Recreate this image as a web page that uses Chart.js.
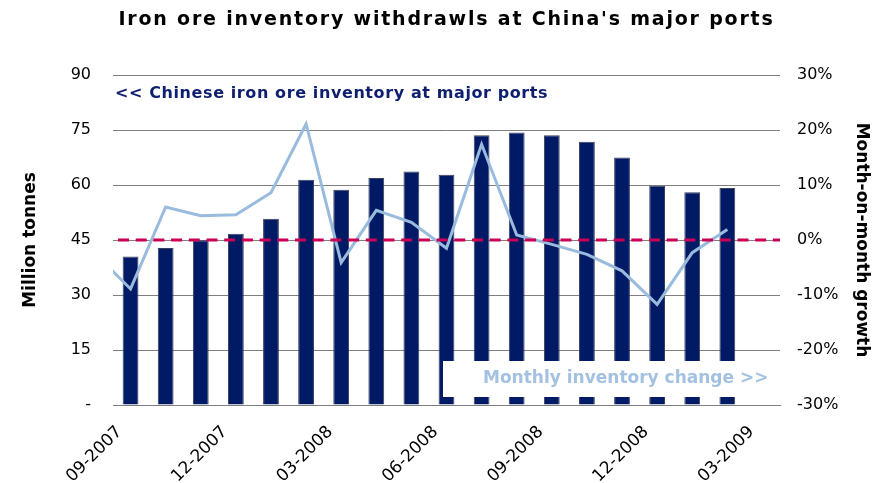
<!DOCTYPE html>
<html lang="en">
<head>
<meta charset="UTF-8" />
<title>Iron ore inventory withdrawls at China's major ports</title>
<script src="https://cdn.jsdelivr.net/npm/chart.js"></script>
<style>
    html, body { margin: 0; padding: 0; background: #fff; }
    #wrap { width: 874px; height: 483px; position: relative; }
</style>
</head>
<body>
<div id="wrap"><canvas id="chart"></canvas></div>
<script>
    // categories (months), one bar per month except the last
    const months = ['09-2007', '10-2007', '11-2007', '12-2007', '01-2008', '02-2008', '03-2008',
        '04-2008', '05-2008', '06-2008', '07-2008', '08-2008', '09-2008', '10-2008', '11-2008',
        '12-2008', '01-2009', '02-2009', '03-2009'];

    // inventory at major ports, million tonnes (09-2007 .. 02-2009)
    const inventory = [40.5, 42.8, 44.9, 46.7, 50.8, 61.4, 58.7, 61.9, 63.7, 62.8,
        73.6, 74.3, 73.6, 71.8, 67.5, 59.8, 58.0, 59.2];

    // month-on-month growth in %, starting 08-2007 (only its tail shows at the left edge)
    const growthMonths = ['08-2007'].concat(months.slice(0, 18));
    const growth = [-2.5, -8.9, 6.0, 4.4, 4.6, 8.6, 21.1, -4.1, 5.4, 3.2,
        -1.5, 17.4, 0.9, -0.8, -2.6, -5.6, -11.7, -2.3, 1.9];

    const leftTicks = [0, 15, 30, 45, 60, 75, 90];
    const rightTicks = [-30, -20, -10, 0, 10, 20, 30];
    const zeroGrowth = 0;

    const FONT = "'DejaVu Sans', Verdana, sans-serif";
    const xMin = -0.5, xMax = months.length - 0.5;

    // growth points on a hidden linear axis lined up with the category centres
    const growthPoints = growth.map((v, i) => ({ x: months.indexOf(growthMonths[i]), y: v }));

    const labelsPlugin = {
        id: 'labels',
        afterDatasetsDraw(chart) {
            const { ctx, chartArea } = chart;
            ctx.save();
            ctx.textBaseline = 'middle';

            // title
            ctx.fillStyle = '#000';
            ctx.font = 'bold 19px ' + FONT;
            ctx.letterSpacing = '1.8px';
            ctx.textAlign = 'center';
            ctx.fillText("Iron ore inventory withdrawls at China's major ports", (chartArea.left + chartArea.right) / 2, 20);

            // bar series note
            ctx.fillStyle = '#0d1f6e';
            ctx.font = 'bold 16px ' + FONT;
            ctx.letterSpacing = '0.6px';
            ctx.textAlign = 'left';
            ctx.fillText('<< Chinese iron ore inventory at major ports', chartArea.left + 2, 94);

            // line series note in a white box
            ctx.letterSpacing = '0px';
            ctx.fillStyle = '#fff';
            ctx.fillRect(443, 361, 332, 36);
            ctx.fillStyle = '#a3c1e0';
            ctx.font = 'bold 17px ' + FONT;
            ctx.fillText('Monthly inventory change >>', 483, 379);
            ctx.restore();
        }
    };

    new Chart(document.getElementById('chart'), {
        type: 'bar',
        data: {
            labels: months,
            datasets: [
                {
                    type: 'line',
                    label: 'zero',
                    data: [{ x: xMin, y: zeroGrowth }, { x: xMax, y: zeroGrowth }],
                    xAxisID: 'x2', yAxisID: 'y2',
                    borderColor: '#cc0055',
                    borderWidth: 3,
                    borderDash: [11, 6.7],
                    borderDashOffset: 12.7,
                    pointRadius: 0,
                    order: 0
                },
                {
                    type: 'line',
                    label: 'Monthly inventory change',
                    data: growthPoints,
                    xAxisID: 'x2', yAxisID: 'y2',
                    borderColor: '#99bbdd',
                    borderWidth: 3,
                    pointRadius: 0,
                    tension: 0,
                    order: 1
                },
                {
                    type: 'bar',
                    label: 'Chinese iron ore inventory at major ports',
                    data: inventory,
                    xAxisID: 'x', yAxisID: 'y',
                    backgroundColor: '#001a66',
                    borderColor: '#3a3f5c',
                    borderWidth: 1,
                    grouped: false,
                    barPercentage: 0.45,
                    categoryPercentage: 1,
                    order: 2
                }
            ]
        },
        options: {
            responsive: true,
            maintainAspectRatio: false,
            animation: false,
            layout: { padding: { top: 75, left: 0, right: 0, bottom: 0 } },
            plugins: { legend: { display: false }, tooltip: { enabled: false } },
            scales: {
                x: {
                    type: 'category',
                    offset: true,
                    grid: { display: false, drawTicks: false },
                    border: { display: true, color: '#7f7f7f', width: 1 },
                    ticks: {
                        autoSkip: false, maxRotation: 45, minRotation: 45, padding: 17, labelOffset: -11,
                        color: '#000', font: { family: FONT, size: 17 },
                        callback: (v, i) => (i % 3 === 0 ? months[i] : '')
                    },
                    afterFit: s => { s.height = 78; }
                },
                x2: {
                    type: 'linear', min: xMin, max: xMax, offset: false, display: false
                },
                y: {
                    position: 'left',
                    min: 0, max: 90,
                    afterBuildTicks: s => { s.ticks = leftTicks.map(v => ({ value: v })); },
                    grid: { color: '#7f7f7f', drawTicks: false },
                    border: { display: false },
                    ticks: {
                        padding: 22, color: '#000', font: { family: FONT, size: 16 },
                        callback: v => (v === 0 ? '-' : v)
                    },
                    title: {
                        display: true, text: 'Million tonnes', color: '#000',
                        font: { family: FONT, size: 17, weight: 'bold' }, padding: { top: 20 }
                    },
                    afterFit: s => { s.width = 113; }
                },
                y2: {
                    position: 'right',
                    min: -30, max: 30,
                    afterBuildTicks: s => { s.ticks = rightTicks.map(v => ({ value: v })); },
                    grid: { display: false, drawTicks: false },
                    border: { display: false },
                    ticks: {
                        padding: 17, color: '#000', font: { family: FONT, size: 16 },
                        callback: v => v + '%'
                    },
                    title: {
                        display: true, text: 'Month-on-month growth', color: '#000',
                        font: { family: FONT, size: 17, weight: 'bold' }, padding: { top: 2 }
                    },
                    afterFit: s => { s.width = 94; }
                }
            }
        },
        plugins: [labelsPlugin]
    });
</script>
</body>
</html>
